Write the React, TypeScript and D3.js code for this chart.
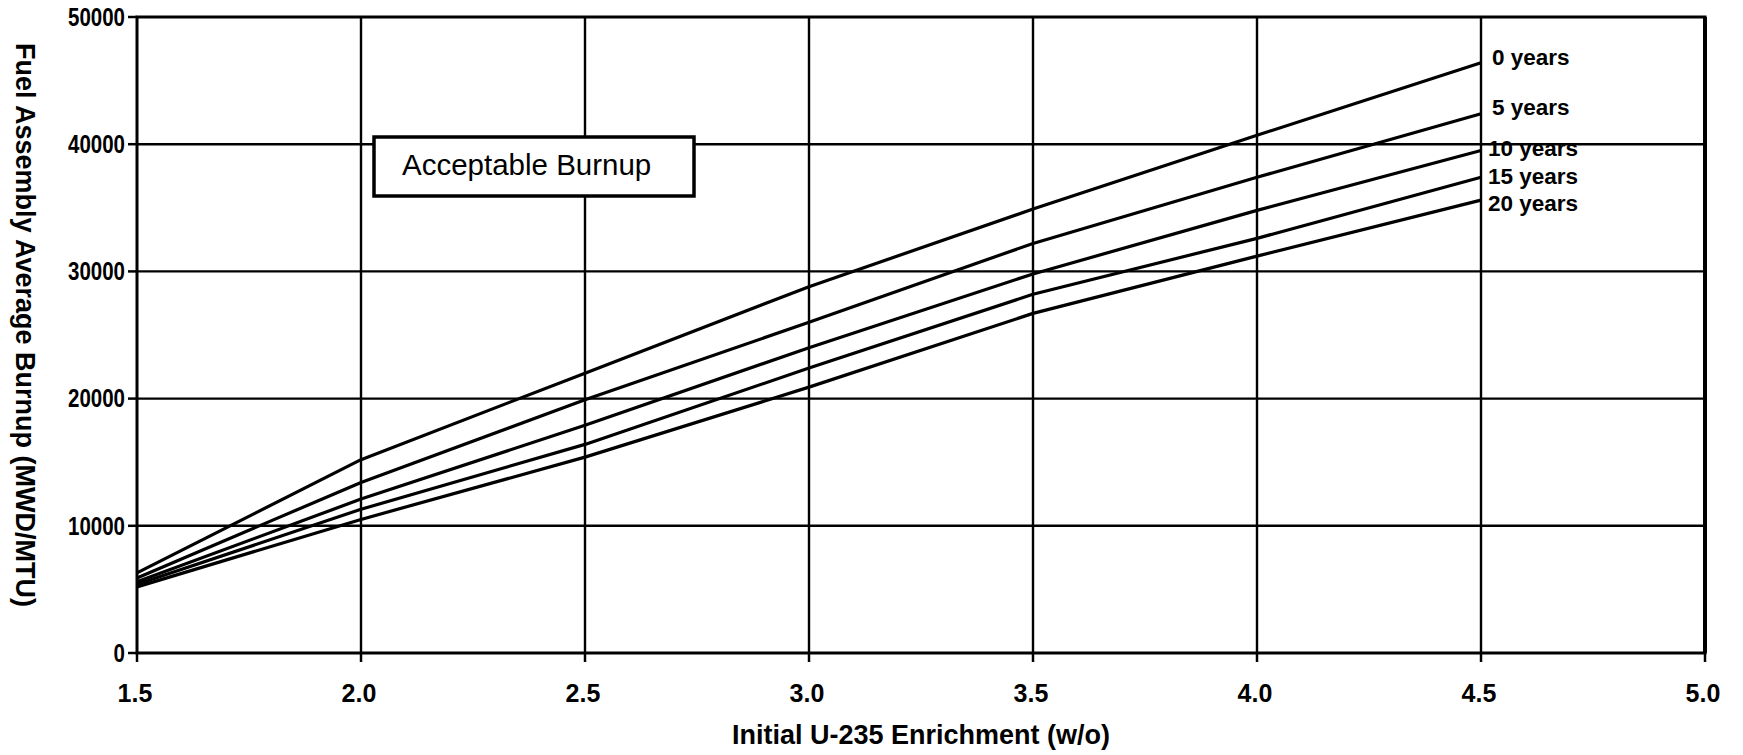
import React from "react";
import * as d3 from "d3";

const enrichment = [1.5, 2.0, 2.5, 3.0, 3.5, 4.0, 4.5];
const years0 = [6300, 15200, 22000, 28800, 34900, 40700, 46400];
const years5 = [5900, 13400, 19900, 26000, 32200, 37400, 42400];
const years10 = [5600, 12100, 17900, 24000, 29800, 34800, 39500];
const years15 = [5400, 11300, 16400, 22400, 28200, 32600, 37400];
const years20 = [5200, 10500, 15400, 20900, 26700, 31200, 35600];
const seriesLabels = ["0 years", "5 years", "10 years", "15 years", "20 years"];
const xTicks = [1.5, 2.0, 2.5, 3.0, 3.5, 4.0, 4.5, 5.0];
const yTicks = [0, 10000, 20000, 30000, 40000, 50000];

const series = [years0, years5, years10, years15, years20];
const labelDy = [2, 1, -1, 1, 5];

const W = 1743;
const H = 755;
const left = 137, right = 1705, top = 17, bottom = 653;

export default function App() {
  const x = d3.scaleLinear().domain([1.5, 5.0]).range([left, right]);
  const y = d3.scaleLinear().domain([0, 50000]).range([bottom, top]);
  const line = d3
    .line<number>()
    .x((_, i) => x(enrichment[i]))
    .y((d) => y(d));
  const font = "'Liberation Sans', Arial, Helvetica, sans-serif";

  return (
    <svg
      width={W}
      height={H}
      style={{ position: "absolute", left: 0, top: 0, background: "#fff" }}
      fontFamily={font}
    >
      <rect x={0} y={0} width={W} height={H} fill="#fff" />
      {/* grid */}
      {xTicks.slice(1, -1).map((t) => (
        <line key={"gx" + t} x1={x(t)} x2={x(t)} y1={top} y2={bottom} stroke="#000" strokeWidth={2.4} />
      ))}
      {yTicks.slice(1, -1).map((t) => (
        <line key={"gy" + t} x1={left} x2={right} y1={y(t)} y2={y(t)} stroke="#000" strokeWidth={2.4} />
      ))}
      {/* border */}
      <rect x={left} y={top} width={right - left} height={bottom - top} fill="none" stroke="#000" strokeWidth={3} />
      <line x1={right} x2={right} y1={top} y2={bottom} stroke="#000" strokeWidth={4} />
      {/* ticks */}
      {yTicks.map((t) => (
        <g key={"ty" + t}>
          <line x1={left - 9} x2={left} y1={y(t)} y2={y(t)} stroke="#000" strokeWidth={2.5} />
          <text
            transform={`translate(125, ${y(t)}) scale(0.82, 1)`}
            textAnchor="end"
            dominantBaseline="central"
            fontSize={25}
            fontWeight="bold"
          >
            {t}
          </text>
        </g>
      ))}
      {xTicks.map((t) => (
        <g key={"tx" + t}>
          <line x1={x(t)} x2={x(t)} y1={bottom} y2={bottom + 9} stroke="#000" strokeWidth={2.5} />
          <text x={x(t) - 2} y={702} textAnchor="middle" fontSize={25} fontWeight="bold">
            {t.toFixed(1)}
          </text>
        </g>
      ))}
      {/* series */}
      {series.map((s, i) => (
        <path key={"s" + i} d={line(s) || ""} fill="none" stroke="#000" strokeWidth={3.2} strokeLinejoin="round" />
      ))}
      {series.map((s, i) => (
        <text
          key={"l" + i}
          x={x(4.5) + (i < 2 ? 11 : 7)}
          y={y(s[s.length - 1]) + labelDy[i]}
          dy={i < 2 ? 0 : 6}
          fontSize={22.5}
          fontWeight="bold"
        >
          {seriesLabels[i]}
        </text>
      ))}
      {/* annotation box */}
      <rect x={374} y={137} width={320} height={59} fill="#fff" stroke="#000" strokeWidth={3.5} />
      <text x={402} y={175} fontSize={29.5}>
        Acceptable Burnup
      </text>
      {/* axis titles */}
      <text x={921} y={744} textAnchor="middle" fontSize={27} fontWeight="bold">
        Initial U-235 Enrichment (w/o)
      </text>
      <text
        transform={`translate(25, 325) rotate(90)`}
        textAnchor="middle"
        dominantBaseline="central"
        fontSize={27}
        fontWeight="bold"
      >
        Fuel Assembly Average Burnup (MWD/MTU)
      </text>
    </svg>
  );
}
